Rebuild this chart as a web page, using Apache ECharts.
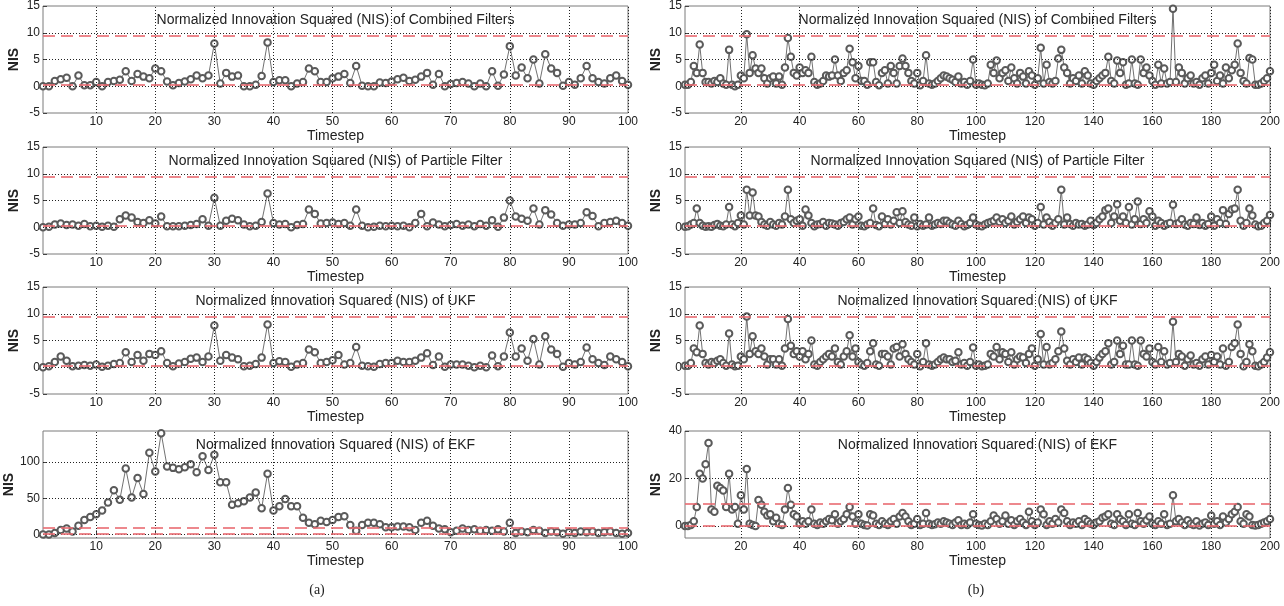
<!DOCTYPE html>
<html lang="en">
<head>
  <meta charset="UTF-8">
  <title>Normalized Innovation Squared (NIS)</title>
  <style>
    html, body { margin: 0; padding: 0; background: #fff; }
    #chart { width: 1284px; height: 606px; }
  </style>
</head>
<body>
  <div id="chart"></div>
  <script src="https://cdn.jsdelivr.net/npm/echarts@6/dist/echarts.min.js"></script>
  <script>
    // ---- data ----
    var ticksA = [10, 20, 30, 40, 50, 60, 70, 80, 90, 100];
    var ticksB = [20, 40, 60, 80, 100, 120, 140, 160, 180, 200];
    var ticksNis = [-5, 0, 5, 10, 15];
    var ticksEkfA = [0, 50, 100];
    var ticksEkfB = [0, 20, 40];
    var bounds = [0.2, 9.35]; // red dashed consistency bounds

    // (a) 100 timesteps
    var combA = [0, 0, 1.0, 1.3, 1.6, 0, 2.0, 0.2, 0.2, 0.8,
      0, 0.8, 1.0, 1.2, 2.8, 1.0, 2.3, 1.8, 1.5, 3.3,
      2.8, 0.9, 0.2, 0.6, 0.9, 1.3, 2.0, 1.5, 2.0, 8.0,
      0.5, 2.5, 1.8, 2.0, 0, 0, 0.3, 1.9, 8.2, 0.8,
      1.1, 1.1, 0, 0.5, 0.8, 3.3, 2.8, 0.8, 0.8, 1.5,
      1.8, 2.3, 0.6, 3.8, 0.1, 0, 0, 0.7, 0.6, 0.9,
      1.3, 1.6, 1.0, 1.2, 1.8, 2.5, 0.3, 2.3, 0, 0.4,
      0.6, 0.8, 0.5, 0, 0.5, 0, 2.8, 0.1, 2.2, 7.5,
      2.0, 3.5, 1.5, 5.0, 0.5, 6.0, 3.3, 2.5, 0.1, 0.8,
      0.3, 1.5, 3.8, 1.5, 0.8, 0.5, 1.5, 2.0, 1.0, 0.3];
    var pfA = [0, 0.1, 0.5, 0.7, 0.4, 0.5, 0.3, 0.6, 0.2, 0.3,
      0.1, 0.3, 0.1, 1.5, 2.2, 1.8, 1.0, 0.8, 1.3, 0.7,
      2.0, 0.2, 0.2, 0.2, 0.3, 0.4, 0.6, 1.5, 0.3, 5.5,
      0.3, 1.2, 1.6, 1.3, 0.5, 0.2, 0.3, 1.0, 6.3, 0.8,
      0.5, 0.6, 0, 0.4, 0.6, 3.3, 2.5, 0.7, 0.8, 0.9,
      0.6, 0.8, 0.3, 3.3, 0.3, 0, 0.1, 0.3, 0.2, 0.3,
      0.2, 0.3, 0, 0.8, 2.5, 0.2, 0.9, 0.5, 0.2, 0.4,
      0.6, 0.3, 0.5, 0.2, 0.6, 0.3, 1.3, 0.1, 1.8, 5.0,
      2.0, 1.6, 1.2, 3.5, 0.5, 3.2, 2.4, 0.8, 0.3, 0.5,
      0.5, 0.8, 2.8, 2.1, 0.2, 0.8, 1.0, 1.2, 0.8, 0.3];
    var ukfA = [0, 0.2, 1.0, 2.0, 1.2, 0.2, 0.3, 0.4, 0.3, 0.5,
      0.1, 0.3, 0.6, 0.8, 2.8, 1.0, 2.3, 1.2, 2.5, 2.3,
      3.0, 0.8, 0.2, 0.7, 1.0, 1.6, 1.8, 1.0, 2.0, 7.8,
      1.2, 2.3, 1.8, 1.5, 0.2, 0.3, 0.6, 1.8, 8.0, 0.8,
      1.1, 1.0, 0.1, 0.5, 0.8, 3.3, 2.8, 0.8, 1.0, 1.3,
      2.3, 0.5, 0.8, 3.8, 0.3, 0.2, 0.1, 0.6, 0.8, 0.8,
      1.2, 1.0, 1.0, 1.2, 1.8, 2.6, 0.4, 2.0, 0.1, 0.5,
      0.5, 0.5, 0.3, 0, 0.3, 0, 2.2, 0.2, 2.0, 6.5,
      2.0, 3.5, 1.2, 5.3, 0.5, 5.8, 3.3, 2.5, 0.1, 0.8,
      0.5, 1.0, 3.7, 1.5, 0.8, 0.4, 2.0, 1.5, 1.0, 0.2];
    var ekfA = [0, 0, 2, 6, 8, 4, 12, 20, 24, 28,
      33, 44, 61, 48, 91, 51, 78, 56, 113, 87,
      140, 94, 92, 90, 93, 97, 86, 108, 89, 110,
      72, 72, 41, 43, 46, 51, 58, 36, 84, 33,
      39, 49, 39, 39, 23, 16, 14, 19, 17, 20,
      24, 25, 13, 5, 13, 16, 16, 14, 10, 10,
      11, 11, 10, 6, 16, 19, 12, 8, 7, 3,
      5, 8, 6, 7, 5, 6, 5, 7, 4, 16,
      2, 4, 3, 6, 5, 2, 4, 3, 1, 3,
      2, 4, 3, 4, 2, 3, 4, 2, 1, 2];

    // (b) 200 timesteps
    var combB = [0.3, 0.3, 0.8, 3.8, 2.5, 7.8, 2.5, 0.8, 0.8, 0.5,
      1.0, 0.8, 1.5, 0.5, 0.3, 6.8, 0.3, 0, 0.3, 2.0,
      1.5, 9.7, 2.5, 5.8, 3.3, 2.5, 3.3, 1.5, 0.5, 1.5,
      1.8, 0.5, 1.8, 0.3, 3.5, 9.0, 5.5, 2.5, 2.0, 3.5,
      2.5, 3.0, 2.5, 5.5, 0.8, 0.3, 0.5, 1.0, 2.0, 1.8,
      2.0, 5.0, 2.0, 1.0, 2.5, 3.0, 7.0, 4.5, 1.5, 3.8,
      1.0, 1.0, 0.3, 4.5, 4.5, 0.8, 0.2, 2.5, 3.0, 0.5,
      3.8, 2.5, 0.5, 3.8, 5.2, 3.8, 2.5, 1.0, 0.5, 2.5,
      0.2, 1.0, 5.8, 0.5, 0.3, 0.5, 1.0, 1.5, 2.0, 1.8,
      1.5, 1.2, 0.8, 1.8, 0.5, 0.8, 0.3, 1.0, 5.0, 0.3,
      0.5, 0.3, 0.2, 0.5, 4.0, 2.5, 4.8, 1.5, 2.5, 3.0,
      1.0, 3.5, 1.5, 0.5, 2.5, 1.8, 0.5, 2.8, 2.0, 0.3,
      1.5, 7.2, 0.5, 4.0, 0.8, 0.5, 1.0, 5.2, 6.8, 3.5,
      2.5, 0.5, 1.5, 1.0, 2.0, 0.5, 2.8, 2.0, 0.5, 0.3,
      1.0, 1.5, 2.0, 2.5, 5.5, 1.0, 0.5, 4.8, 2.5, 4.5,
      0.3, 0.5, 5.0, 0.5, 0.3, 5.0, 2.5, 3.5, 2.0, 1.0,
      0.3, 4.0, 0.5, 3.3, 0.5, 0.8, 14.5, 0.8, 3.5, 2.5,
      0.5, 1.5, 2.0, 0.5, 0.8, 0.3, 1.5, 2.0, 0.5, 2.5,
      4.0, 1.0, 2.0, 0.5, 3.5, 1.5, 3.0, 4.0, 8.0, 2.5,
      1.0, 0.5, 5.3, 5.0, 0.3, 0.3, 0.5, 1.0, 1.5, 2.8];
    var pfB = [0.1, 0.2, 0.5, 0.8, 3.5, 0.8, 0.3, 0.1, 0.2, 0.1,
      0.4, 0.6, 0.3, 0.2, 0.5, 3.8, 0.5, 0.2, 0.8, 2.2,
      0.5, 7.0, 2.2, 6.5, 2.2, 2.0, 1.0, 0.5, 0.3, 1.0,
      0.5, 0.3, 0.8, 0.5, 2.0, 7.0, 1.5, 0.8, 1.2, 1.5,
      0.3, 3.3, 2.2, 0.8, 0.2, 0.5, 0.6, 1.0, 0.3, 0.8,
      0.7, 0.5, 0.3, 0.8, 1.0, 1.5, 1.8, 0.5, 1.5, 2.0,
      0.3, 0.2, 0.5, 0.8, 3.5, 0.4, 0.2, 2.0, 0.6, 1.5,
      0.5, 1.2, 2.8, 0.8, 3.0, 1.0, 0.5, 0.3, 1.8, 0.2,
      0.6, 0.3, 0.5, 1.8, 0.3, 0.5, 0.8, 0.6, 1.2, 1.2,
      0.8, 0.5, 0.3, 1.2, 0.6, 0.2, 0.4, 0.8, 1.8, 0.5,
      0.3, 0.2, 0.5, 0.8, 1.0, 1.2, 1.8, 1.0, 1.5, 0.8,
      1.2, 2.0, 0.5, 1.0, 1.5, 2.0, 0.8, 1.8, 1.5, 0.3,
      0.8, 3.8, 0.5, 1.8, 1.0, 0.3, 0.8, 1.5, 7.0, 0.5,
      1.8, 0.6, 0.3, 0.8, 0.5, 0.6, 0.3, 0.5, 1.2, 0.4,
      0.8, 1.5, 2.0, 3.2, 3.5, 0.8, 2.0, 4.3, 1.2, 2.0,
      0.8, 3.8, 0.5, 1.5, 4.8, 0.6, 1.5, 0.8, 3.0, 2.0,
      0.3, 1.2, 0.8, 0.3, 0.6, 0.8, 4.2, 0.6, 0.8, 1.5,
      0.5, 0.3, 0.8, 0.6, 1.8, 0.4, 0.8, 0.3, 0.6, 2.0,
      0.3, 1.5, 0.8, 3.2, 0.6, 2.5, 3.3, 3.5, 7.0, 1.2,
      0.3, 0.8, 3.5, 2.2, 0.5, 0.2, 0.3, 0.8, 1.2, 2.3];
    var ukfB = [0.3, 0.3, 0.8, 3.5, 2.8, 7.8, 2.5, 0.8, 0.5, 1.0,
      0.8, 1.2, 1.5, 0.8, 0.3, 6.3, 0.5, 0.2, 0.3, 2.0,
      1.5, 9.5, 2.5, 5.8, 3.0, 2.5, 3.5, 2.0, 0.5, 1.5,
      1.5, 0.5, 1.5, 0.3, 3.5, 9.0, 4.0, 2.5, 3.0, 2.0,
      3.0, 1.5, 2.5, 5.0, 0.5, 0.3, 1.0, 1.5, 2.0, 2.5,
      2.0, 3.5, 1.0, 0.5, 2.0, 3.0, 6.0, 2.0, 3.5, 1.0,
      0.5, 0.3, 0.8, 3.0, 4.5, 0.5, 0.3, 2.5, 2.5, 2.0,
      0.5, 3.5, 3.8, 2.0, 4.3, 2.5, 1.5, 1.0, 0.5, 2.5,
      0.2, 1.0, 4.5, 0.5, 0.3, 0.5, 1.0, 1.5, 1.8, 1.5,
      1.5, 1.0, 1.2, 2.8, 0.5, 0.8, 0.3, 1.0, 3.7, 0.3,
      0.5, 0.2, 0.3, 0.5, 2.5, 2.0, 3.8, 1.5, 2.8, 2.5,
      1.0, 2.8, 0.5, 1.5, 2.0, 1.8, 0.8, 2.5, 3.5, 0.3,
      1.5, 6.2, 0.5, 3.8, 0.5, 0.8, 1.5, 3.0, 6.7, 3.5,
      1.2, 0.5, 1.5, 1.0, 1.8, 0.5, 1.8, 1.5, 0.8, 0.3,
      1.0, 1.8, 2.5, 3.0, 4.5, 0.5, 1.0, 5.0, 2.5, 4.0,
      0.5, 0.5, 5.0, 0.5, 0.3, 5.0, 2.5, 2.0, 3.5, 1.0,
      0.5, 3.8, 1.0, 3.0, 0.5, 0.8, 8.5, 1.0, 2.5, 2.0,
      0.3, 1.5, 2.2, 0.5, 0.8, 0.3, 1.5, 2.0, 0.5, 2.3,
      1.0, 2.0, 0.5, 3.5, 0.3, 1.0, 3.8, 4.5, 8.0, 2.5,
      0.2, 1.0, 4.3, 3.0, 0.3, 0.2, 0.5, 1.0, 1.8, 2.8];
    var ekfB = [0, 0, 0.5, 2, 8, 22, 20, 26, 35, 7,
      6, 17, 16, 15, 8, 22, 7, 8, 1, 13,
      7, 24, 1, 0.5, 0, 11, 9, 6, 4.5, 5,
      2, 3.5, 1, 0.5, 7, 16, 9, 5, 4, 1,
      2, 1, 2, 7, 1, 0.5, 1.5, 1, 2, 3,
      2.5, 5, 1, 2, 3, 5, 8, 4, 1, 5,
      1, 0.5, 0.3, 5, 4.5, 1, 0.5, 2, 1, 0.5,
      2, 3, 1, 4, 5.5, 4, 2, 0.5, 1, 3,
      0.5, 1, 5.5, 1, 0.5, 0.8, 1.5, 1, 2, 1.5,
      1, 0.5, 1.5, 2.5, 0.5, 1, 0.5, 1.5, 5, 1,
      0.5, 0.3, 1, 0.5, 2, 4.5, 3, 1, 2, 4.5,
      1, 2.5, 0.5, 2, 3, 1.5, 0.5, 6, 2, 0.5,
      1.5, 7, 5, 0.5, 2, 1, 3, 1.5, 7, 5.5,
      2, 0.5, 1.5, 1, 2, 0.5, 3, 2, 1, 0.5,
      1.5, 2, 3.5, 4, 5, 1, 0.5, 5, 3, 2,
      0.5, 5, 1, 0.5, 5.5, 2, 1, 2.5, 4, 1,
      0.5, 2, 1, 5, 0.5, 1, 13, 2, 3, 1.5,
      0.5, 2.5, 1, 0.5, 2, 0.3, 1, 1.5, 0.5, 4.5,
      1, 2, 0.5, 4, 1.5, 3, 5, 6, 8, 2,
      1, 5, 4, 0.5, 0.3, 0.5, 1, 1.5, 2, 3];

    var titles = ['Combined Filters', 'Particle Filter', 'UKF', 'EKF'];

    // ---- layout ----
    var cols = [43, 685];
    var plotW = 585;
    var rowTops = [6, 147, 287, 431];
    var plotH = 107;
    var font = '"Liberation Sans", Arial, sans-serif';

    var panels = [
      { values: combA, ticks: ticksA, yTicks: ticksNis, yMin: -5, yMax: 15 },
      { values: pfA, ticks: ticksA, yTicks: ticksNis, yMin: -5, yMax: 15 },
      { values: ukfA, ticks: ticksA, yTicks: ticksNis, yMin: -5, yMax: 15 },
      { values: ekfA, ticks: ticksA, yTicks: ticksEkfA, yMin: -5, yMax: 143 },
      { values: combB, ticks: ticksB, yTicks: ticksNis, yMin: -5, yMax: 15 },
      { values: pfB, ticks: ticksB, yTicks: ticksNis, yMin: -5, yMax: 15 },
      { values: ukfB, ticks: ticksB, yTicks: ticksNis, yMin: -5, yMax: 15 },
      { values: ekfB, ticks: ticksB, yTicks: ticksEkfB, yMin: -5, yMax: 40 }
    ];

    var grid = [], xAxis = [], yAxis = [], series = [], graphic = [];

    panels.forEach(function (p, i) {
      var left = cols[i < 4 ? 0 : 1];
      var top = rowTops[i % 4];

      grid.push({
        left: left, top: top, width: plotW, height: plotH,
        show: true, borderColor: '#7a7a7a', borderWidth: 1
      });

      xAxis.push({
        gridIndex: i, type: 'value', min: 1, max: p.values.length,
        name: 'Timestep', nameLocation: 'middle', nameGap: 14,
        nameTextStyle: { fontFamily: font, fontSize: 14, color: '#222' },
        axisLine: { show: false },
        axisTick: { inside: true, length: 4, customValues: p.ticks, lineStyle: { color: '#444' } },
        axisLabel: { customValues: p.ticks, margin: 3, fontFamily: font, fontSize: 12, color: '#222' },
        splitLine: { show: false }
      });

      yAxis.push({
        gridIndex: i, type: 'value', min: p.yMin, max: p.yMax,
        name: 'NIS', nameLocation: 'middle', nameGap: 22, nameRotate: 90,
        nameTextStyle: { fontFamily: font, fontSize: 14, fontWeight: 'bold', color: '#222' },
        axisLine: { show: false },
        axisTick: { inside: true, length: 4, customValues: p.yTicks, lineStyle: { color: '#444' } },
        axisLabel: { customValues: p.yTicks, margin: 3, fontFamily: font, fontSize: 12, color: '#222' },
        splitLine: { show: false }
      });

      // dotted grid lines at the tick positions
      var gridLines = p.ticks.map(function (v) { return { xAxis: v }; })
        .concat(p.yTicks.filter(function (v) { return v > p.yMin && v < p.yMax; })
          .map(function (v) { return { yAxis: v }; }));
      series.push({
        type: 'line', xAxisIndex: i, yAxisIndex: i, data: [], z: 1, silent: true,
        markLine: {
          symbol: 'none', silent: true, animation: false, label: { show: false },
          lineStyle: { color: '#222', type: [1, 2], width: 1 },
          data: gridLines
        }
      });

      series.push({
        type: 'line', xAxisIndex: i, yAxisIndex: i, z: 2,
        data: p.values.map(function (v, k) { return [k + 1, v]; }),
        symbol: 'emptyCircle', symbolSize: 6.5, showAllSymbol: true,
        lineStyle: { color: '#333', width: 0.7 },
        itemStyle: { color: '#5a5a5a', borderWidth: 0.6 },
        animation: false
      });

      series.push({
        type: 'line', xAxisIndex: i, yAxisIndex: i, data: [], z: 3, silent: true,
        markLine: {
          symbol: 'none', silent: true, animation: false, label: { show: false },
          lineStyle: { color: '#e86a70', type: [12, 6], width: 2, opacity: 0.8 },
          data: bounds.map(function (v) { return { yAxis: v }; })
        }
      });

      graphic.push({
        type: 'text', x: left + plotW / 2, y: top + 14, z: 10,
        style: {
          text: 'Normalized Innovation Squared (NIS) of ' + titles[i % 4],
          font: '14px ' + font, fill: '#222', textAlign: 'center', textVerticalAlign: 'middle'
        }
      });
    });

    graphic.push({
      type: 'text', x: 317, y: 590,
      style: { text: '(a)', font: '14px "Liberation Serif", serif', fill: '#222', textAlign: 'center', textVerticalAlign: 'middle' }
    });
    graphic.push({
      type: 'text', x: 976, y: 590,
      style: { text: '(b)', font: '14px "Liberation Serif", serif', fill: '#222', textAlign: 'center', textVerticalAlign: 'middle' }
    });

    var chart = echarts.init(document.getElementById('chart'));
    chart.setOption({
      backgroundColor: '#fff',
      animation: false,
      grid: grid,
      xAxis: xAxis,
      yAxis: yAxis,
      series: series,
      graphic: graphic
    });
  </script>
</body>
</html>
